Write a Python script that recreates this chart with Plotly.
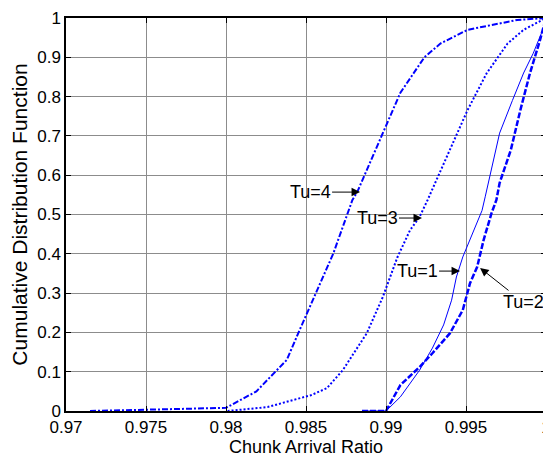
import plotly.graph_objects as go

# CDF curves (chunk arrival ratio, cumulative probability)
tu1_x = [0.9885, 0.99, 0.9909, 0.9921, 0.9929, 0.9936, 0.9941, 0.9944, 0.9948, 0.9954,
         0.996, 0.9962, 0.9971, 0.9979, 0.9986, 0.9992, 0.9998, 1.0]
tu1_c = [0, 0, 0.036, 0.104, 0.16, 0.219, 0.282, 0.341, 0.392, 0.453,
         0.51, 0.545, 0.707, 0.79, 0.86, 0.91, 0.97, 1.0]

tu2_x = [0.9885, 0.99, 0.9909, 0.9921, 0.9929, 0.994, 0.9948, 0.99525, 0.9957, 0.9961,
         0.9966, 0.9969, 0.9971, 0.9978, 0.9984, 0.999, 0.9996, 1.0]
tu2_c = [0, 0, 0.066, 0.112, 0.147, 0.198, 0.257, 0.325, 0.367, 0.435,
         0.504, 0.537, 0.58, 0.664, 0.766, 0.86, 0.94, 1.0]

tu3_x = [0.9801, 0.9809, 0.9826, 0.9842, 0.9853, 0.9863, 0.9873, 0.9888, 0.9898, 0.9907,
         0.9915, 0.9921, 0.9926, 0.9938, 0.9951, 0.9963, 0.9976, 0.9986, 1.0]
tu3_c = [0, 0.003, 0.01, 0.028, 0.04, 0.058, 0.104, 0.198, 0.29, 0.39,
         0.46, 0.494, 0.537, 0.647, 0.766, 0.86, 0.935, 0.97, 1.0]

tu4_x = [0.9715, 0.975, 0.98, 0.9819, 0.9838, 0.9846, 0.9857, 0.9867, 0.9879, 0.9882,
         0.9898, 0.9909, 0.9924, 0.9934, 0.9951, 0.9982, 1.0]
tu4_c = [0, 0.003, 0.008, 0.05, 0.13, 0.206, 0.308, 0.4, 0.537, 0.557,
         0.707, 0.81, 0.90, 0.935, 0.97, 0.995, 1.0]

x_ticks = [0.97, 0.975, 0.98, 0.985, 0.99, 0.995, 1.0]
x_labels = ["0.97", "0.975", "0.98", "0.985", "0.99", "0.995", "1"]
y_ticks = [0, 0.1, 0.2, 0.3, 0.4, 0.5, 0.6, 0.7, 0.8, 0.9, 1.0]
y_labels = ["0", "0.1", "0.2", "0.3", "0.4", "0.5", "0.6", "0.7", "0.8", "0.9", "1"]

# label text, arrow tip (x, c), text offset in px
labels = [
    ("Tu=4", 0.98838, 0.557, -50, 0),
    ("Tu=3", 0.99225, 0.491, -45, 0),
    ("Tu=1", 0.99463, 0.356, -43, 0),
    ("Tu=2", 0.99588, 0.364, 43, 34),
]

blue = "#0000ff"
fig = go.Figure()
fig.add_trace(go.Scatter(x=tu4_x, y=tu4_c, mode="lines",
                         line=dict(color=blue, width=2, dash="6px,2px,2px,2px")))
fig.add_trace(go.Scatter(x=tu3_x, y=tu3_c, mode="lines",
                         line=dict(color=blue, width=2, dash="2px,2px")))
fig.add_trace(go.Scatter(x=tu1_x, y=tu1_c, mode="lines",
                         line=dict(color=blue, width=1)))
fig.add_trace(go.Scatter(x=tu2_x, y=tu2_c, mode="lines",
                         line=dict(color=blue, width=2.5, dash="6px,2px")))

for txt, x, y, ax, ay in labels:
    fig.add_annotation(x=x, y=y, text=txt, showarrow=True, ax=ax, ay=ay,
                       arrowhead=2, arrowsize=1.7, arrowwidth=1, arrowcolor="black",
                       font=dict(size=18, color="black"))

axis_common = dict(
    showline=True, linecolor="black", linewidth=1.5, mirror="ticks",
    ticks="inside", ticklen=5, tickcolor="black", automargin=False,
    showgrid=True, gridcolor="#8c8c8c", gridwidth=1, zeroline=False,
    tickfont=dict(size=17, color="black"), ticklabeloverflow="allow",
)

# page body adds an 8px offset, margins compensate for it
fig.update_layout(
    width=543, height=450,
    margin=dict(l=58, r=5, t=10, b=47),
    plot_bgcolor="white", paper_bgcolor="white",
    showlegend=False,
    font=dict(family="Liberation Sans, Arial, sans-serif", color="black"),
    xaxis=dict(range=[0.97, 1.0], tickvals=x_ticks, ticktext=x_labels,
               title=dict(text="Chunk Arrival Ratio", font=dict(size=18), standoff=2),
               **axis_common),
    yaxis=dict(range=[0, 1], tickvals=y_ticks, ticktext=y_labels,
               title=dict(text="Cumulative Distribution Function", font=dict(size=21), standoff=10),
               **axis_common),
)

fig.write_html("out.html")
